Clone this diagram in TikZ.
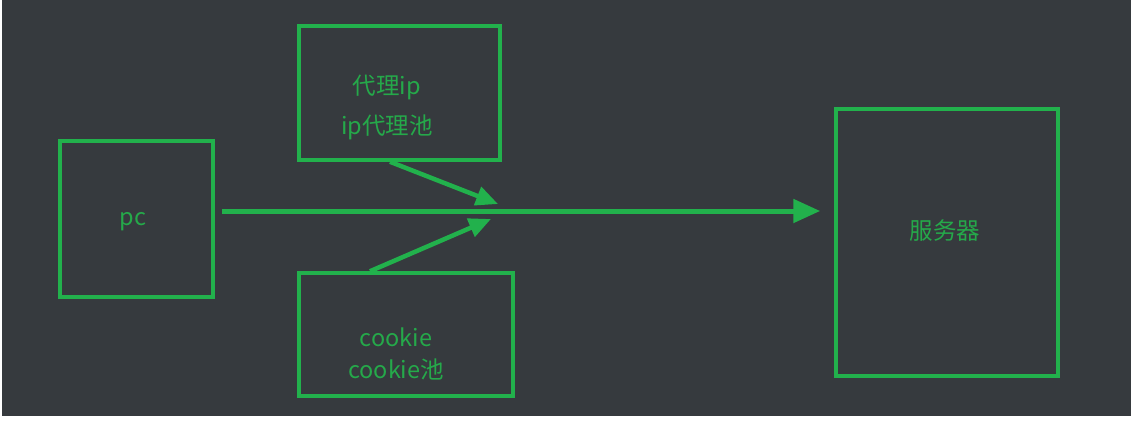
\documentclass[tikz,border=0pt]{standalone}
\usepackage{fontspec}
\setmainfont{Noto Sans CJK SC}
\usetikzlibrary{arrows.meta,positioning}
\definecolor{bgdark}{HTML}{363A3E}
\definecolor{boxgreen}{HTML}{22B14C}
\definecolor{txtgreen}{HTML}{25A94A}
\tikzset{
  box/.style={draw=boxgreen, line width=3.5pt, inner sep=0pt},
  txt/.style={text=txtgreen, font=\fontsize{23.5}{40}\selectfont, align=center, inner sep=0pt},
  flow/.style={draw=boxgreen, line width=5pt, -{Triangle[length=27pt,width=23pt]}},
  feed/.style={draw=boxgreen, line width=4.5pt, -{Triangle[length=22pt,width=19pt]}}
}
\begin{document}
\begin{tikzpicture}[x=1pt,y=-1pt]
    % Draw the page and the dark canvas.
    \useasboundingbox (0,0) rectangle (1131,423);
    \fill[white] (0,0) rectangle (1131,423);
    \fill[bgdark] (2,0) rectangle (1131,416);
    % Draw the boxes.
    \node[box, minimum width=153pt, minimum height=156pt] (pc) at (136.5,219) {};
    \node[box, minimum width=201pt, minimum height=134pt] (proxy) at (399.5,93) {};
    \node[box, minimum width=214pt, minimum height=123pt] (cookie) at (406,334.5) {};
    \node[box, minimum width=222pt, minimum height=267pt] (server) at (947,242.5) {};
    % Put the labels into the boxes.
    \node[txt] (pctext) at (133,222) {pc};
    \node[txt] (proxytext) at (387,107) {代理ip\\ip代理池};
    \node[txt, font=\fontsize{23.5}{32}\selectfont] (cookietext) at (396,354) {cookie\\cookie池};
    \node[txt] (servertext) at (945,231) {服务器};
    % Draw the request from the pc to the server.
    \coordinate (pcout) at ([shift={(7,-8)}]pc.east);
    \draw[flow] (pcout) -- ([xshift=-14pt]server.west |- pcout);
    % Draw the proxy and the cookie joining the request.
    \coordinate (upjoin) at (498,204);
    \coordinate (lowjoin) at (491,219);
    \draw[feed] ([xshift=-9.5pt]proxy.south) -- (upjoin);
    \draw[feed] ([xshift=-36pt]cookie.north) -- (lowjoin);
\end{tikzpicture}
\end{document}
